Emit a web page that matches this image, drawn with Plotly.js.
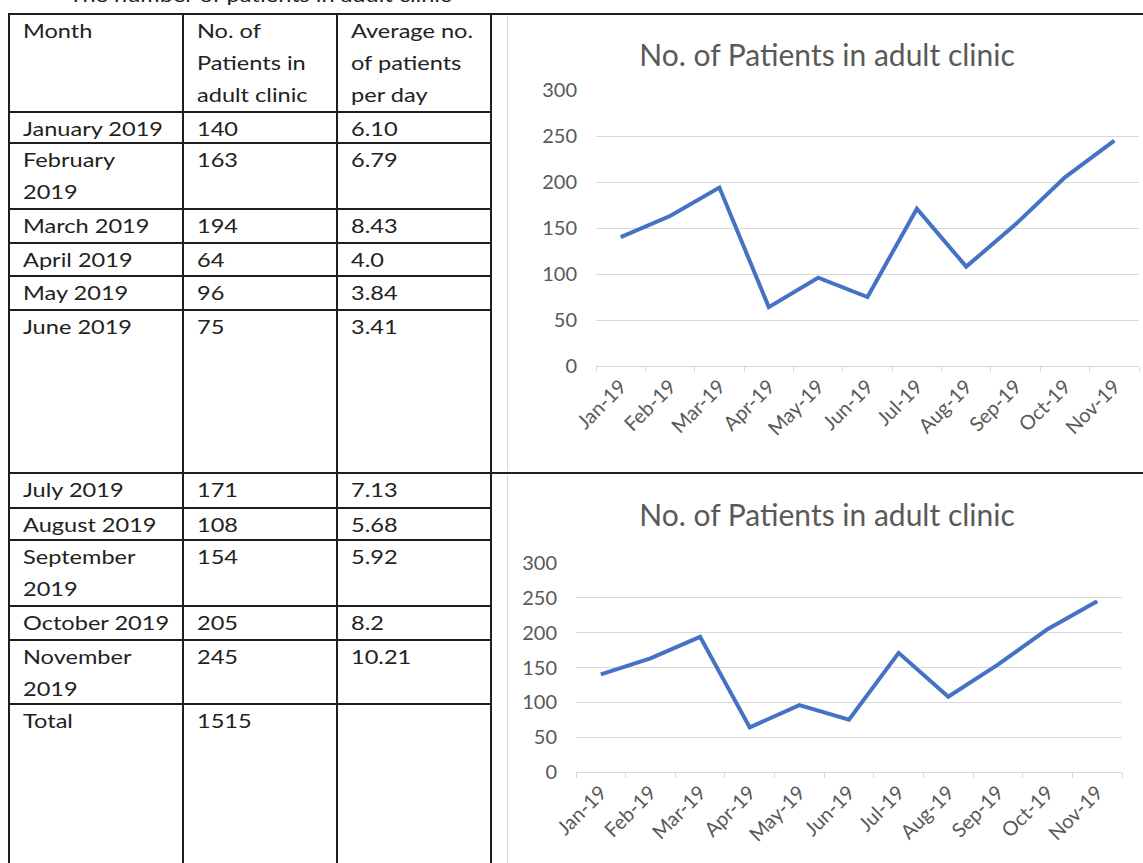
<!DOCTYPE html>
<html>
<head>
<meta charset="utf-8">
<script src="https://cdn.plot.ly/plotly-3.0.1.min.js"></script>
<style>
  body { margin:0; width:1143px; height:863px; overflow:hidden; background:#fff;
         position:relative; font-family:Lato, 'Open Sans', sans-serif; color:#222; }
  .rule { position:absolute; background:#1e1e1e; }
  .cell { position:absolute; font-size:19px; line-height:32px; white-space:pre;
          transform:scaleX(1.24); transform-origin:left top; }
  .chart { position:absolute; border-left:1px solid #d9d9d9; }
  #caption { position:absolute; left:0; width:520px; top:-17px; text-align:center; font-size:19px;
             transform:scaleX(1.24); transform-origin:260px 0; }
</style>
</head>
<body>
<div id="caption">The number of patients in adult clinic</div>
<div id="table"></div>
<div id="chartTop" class="chart"></div>
<div id="chartBottom" class="chart"></div>

<script>
/* table + two copies of the monthly line chart */

const headers   = ['Month', 'No. of\nPatients in\nadult clinic', 'Average no.\nof patients\nper day'];
const months    = ['January 2019','February\n2019','March 2019','April 2019','May 2019','June 2019',
                   'July 2019','August 2019','September\n2019','October 2019','November\n2019'];
const patients  = [140, 163, 194, 64, 96, 75, 171, 108, 154, 205, 245];
const perDay    = ['6.10','6.79','8.43','4.0','3.84','3.41','7.13','5.68','5.92','8.2','10.21'];
const totalLbl  = 'Total';
const totalVal  = '1515';
const monthTicks = ['Jan-19','Feb-19','Mar-19','Apr-19','May-19','Jun-19',
                    'Jul-19','Aug-19','Sep-19','Oct-19','Nov-19'];
const chartTitle = 'No. of Patients in adult clinic';

// table geometry (page pixels)
const colX  = [9, 183, 337, 491];
const rowY  = [14, 112, 143, 209, 243, 276, 310, 473, 508, 540, 606, 640, 704, 900];

const tbl = document.getElementById('table');
function rule(x, y, w, h) {
  const d = document.createElement('div');
  d.className = 'rule';
  Object.assign(d.style, { left:x+'px', top:y+'px', width:w+'px', height:h+'px' });
  tbl.appendChild(d);
}
function cell(txt, col, row) {
  const d = document.createElement('div');
  d.className = 'cell';
  d.textContent = txt;
  d.style.left = (colX[col] + 14) + 'px';
  d.style.top  = (rowY[row] + 1) + 'px';
  tbl.appendChild(d);
}

rule(8, 13, 1135, 2);                        // top border
colX.forEach(x => rule(x - 1, 13, 2, 863));  // verticals
rowY.slice(1, -1).forEach(y => rule(8, y - 1, 484, 2));
rule(491, 472, 652, 2);                      // split between the two charts

headers.forEach((h, i) => cell(h, i, 0));
months.forEach((m, i) => {
  cell(m, 0, i + 1);
  cell(String(patients[i]), 1, i + 1);
  cell(perDay[i], 2, i + 1);
});
cell(totalLbl, 0, 12);
cell(totalVal, 1, 12);

const GREY = '#595959';

function lineChart(id, box, m, titleY) {
  const el = document.getElementById(id);
  Object.assign(el.style, { left:box.x+'px', top:box.y+'px', width:box.w+'px', height:box.h+'px' });
  Plotly.newPlot(id, [{
    x: monthTicks, y: patients, type:'scatter', mode:'lines',
    line:{ color:'#4472c4', width:4 },
    hoverinfo:'skip',
  }], {
    width: box.w, height: box.h,
    paper_bgcolor:'rgba(0,0,0,0)', plot_bgcolor:'rgba(0,0,0,0)',
    font:{ family:'Lato, sans-serif', color:GREY, size:20 },
    margin: m,
    showlegend:false,
    title:{ text: chartTitle, font:{ size:30, color:GREY },
            xref:'container', yref:'container', x: 319 / box.w, xanchor:'center',
            y: 1 - titleY / box.h, yanchor:'middle' },
    xaxis:{ type:'category', range:[-0.5, 10.5], tickangle:-45, tickfont:{ size:20 },
            showline:true, linecolor:'#d9d9d9', linewidth:1,
            ticks:'outside', ticklen:5, tickcolor:'#d9d9d9', tickson:'boundaries',
            showgrid:false, zeroline:false, fixedrange:true },
    yaxis:{ range:[0, 300], dtick:50, showgrid:true, gridcolor:'#d9d9d9', gridwidth:1,
            zeroline:false, showline:false, ticks:'', ticklabelstandoff:18, fixedrange:true },
  }, { displayModeBar:false, staticPlot:true });
}

lineChart('chartTop',    { x:507, y:16,  w:650, h:455 }, { l:88, r:19, t:74, b:105 }, 39);
lineChart('chartBottom', { x:507, y:475, w:650, h:400 }, { l:68, r:36, t:88, b:103 }, 40);
</script>
</body>
</html>
